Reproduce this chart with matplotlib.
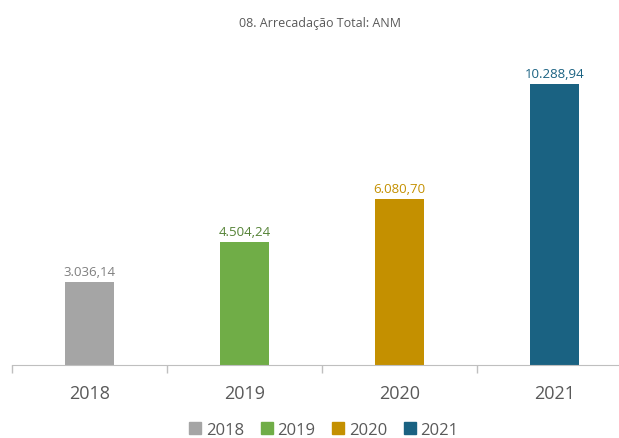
import matplotlib
matplotlib.use("Agg")
import matplotlib.pyplot as plt
from matplotlib.patches import Patch

years = ["2018", "2019", "2020", "2021"]
values = [3036.14, 4504.24, 6080.70, 10288.94]
labels = ["3.036,14", "4.504,24", "6.080,70", "10.288,94"]
colors = ["#A5A5A5", "#70AD47", "#C49000", "#1A6282"]
label_colors = ["#7F7F7F", "#548235", "#C49000", "#1A6282"]

plt.rcParams['font.family'] = ['Open Sans', 'DejaVu Sans']

W, H = 619, 439
fig = plt.figure(figsize=(W / 100, H / 100), dpi=100)
# axes spans from x=12px to 632px (runs past right edge), baseline at y=366px
ax = fig.add_axes([12 / W, (H - 366) / H, 620 / W, 306 / H])

x = range(len(years))
ax.bar(x, values, width=0.32, color=colors)
for i, v in enumerate(values):
    ax.text(i, v + 150, labels[i], ha="center", va="bottom",
            fontsize=9.5, color=label_colors[i])

ax.set_xlim(-0.5, 3.5)
ax.set_ylim(0, 11200)
ax.set_yticks([])
ax.set_xticks([-0.5, 0.5, 1.5, 2.5, 3.5], minor=False)
ax.set_xticklabels([])
ax.set_xticks(list(x), minor=True)
ax.set_xticklabels(years, minor=True)
ax.tick_params(axis="x", which="major", length=6, color="#BFBFBF", width=1)
ax.tick_params(axis="x", which="minor", length=0, pad=14, labelsize=13,
               labelcolor="#595959")
for s in ["top", "left", "right"]:
    ax.spines[s].set_visible(False)
ax.spines["bottom"].set_color("#BFBFBF")

fig.text(320 / W, 1 - 24 / H, "08. Arrecadação Total: ANM", ha="center",
         va="center", fontsize=9, color="#595959")

handles = [Patch(color=c, label=y) for c, y in zip(colors, years)]
fig.legend(handles=handles, loc="center", bbox_to_anchor=(324 / W, 1 - 431 / H),
           ncol=4, frameon=False, fontsize=12, handlelength=0.7, handleheight=0.7,
           handletextpad=0.3, columnspacing=1.0, labelcolor="#595959")

fig.savefig("out.png", dpi=100)
